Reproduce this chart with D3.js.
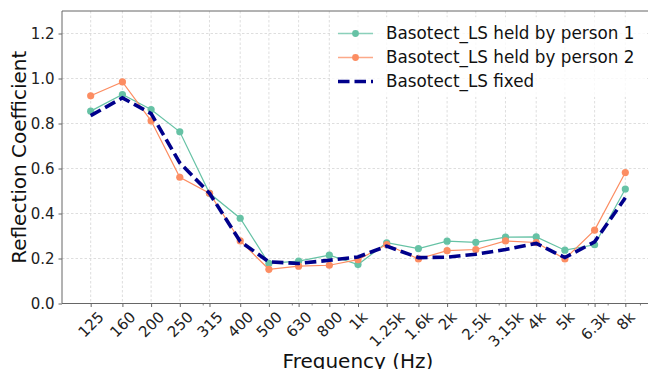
<!DOCTYPE html>
<html>
<head>
<meta charset="utf-8">
<script src="https://cdn.jsdelivr.net/npm/d3@7"></script>
<style>
  html, body { margin: 0; padding: 0; background: #fff; }
  svg { display: block; font-family: "DejaVu Sans", sans-serif; }
</style>
</head>
<body>
<svg id="chart" width="648" height="369"></svg>
<script>
// One-third-octave band centre frequencies (Hz) and their axis labels
const frequencies = [125, 160, 200, 250, 315, 400, 500, 630, 800, 1000, 1250, 1600, 2000, 2500, 3150, 4000, 5000, 6300, 8000];
const tickLabels = ["125", "160", "200", "250", "315", "400", "500", "630", "800", "1k", "1.25k", "1.6k", "2k", "2.5k", "3.15k", "4k", "5k", "6.3k", "8k"];

// Reflection coefficient per band
const heldPerson1 = [0.855, 0.929, 0.862, 0.763, 0.490, 0.379, 0.178, 0.188, 0.215, 0.173, 0.270, 0.244, 0.277, 0.272, 0.295, 0.296, 0.237, 0.261, 0.509];
const heldPerson2 = [0.923, 0.985, 0.812, 0.561, 0.490, 0.278, 0.152, 0.166, 0.170, 0.195, 0.262, 0.198, 0.235, 0.240, 0.278, 0.271, 0.198, 0.326, 0.582];
const fixedMount  = [0.835, 0.914, 0.844, 0.625, 0.490, 0.276, 0.185, 0.178, 0.192, 0.207, 0.255, 0.204, 0.206, 0.219, 0.240, 0.267, 0.204, 0.274, 0.470];

const yTicks = [0.0, 0.2, 0.4, 0.6, 0.8, 1.0, 1.2];

const seriesList = [
  { name: "Basotect_LS held by person 1", values: heldPerson1, color: "#66c2a5", markers: true },
  { name: "Basotect_LS held by person 2", values: heldPerson2, color: "#fc8d62", markers: true },
  { name: "Basotect_LS fixed", values: fixedMount, color: "#00008b", markers: false }
];

const svg = d3.select("#chart");
const margin = { left: 62, top: 11, right: 654, bottom: 303.5 };

const x = d3.scaleLog().domain([100, 10000]).range([margin.left, margin.right]);
const y = d3.scaleLinear().domain([0, 1.3]).range([margin.bottom, margin.top]);

const plot = svg.append("g");

// grid
const grid = plot.append("g").attr("stroke", "#d6d6d6").attr("stroke-width", 0.8)
  .attr("stroke-dasharray", "2.5,2");
grid.selectAll("line.v").data(frequencies).join("line")
  .attr("x1", d => x(d)).attr("x2", d => x(d))
  .attr("y1", margin.top).attr("y2", margin.bottom);
grid.selectAll("line.h").data(yTicks).join("line")
  .attr("x1", margin.left).attr("x2", margin.right)
  .attr("y1", d => y(d)).attr("y2", d => y(d));

// series
const line = d3.line().x((d, i) => x(frequencies[i])).y(d => y(d));
seriesList.forEach(s => {
  const g = plot.append("g");
  if (s.markers) {
    g.append("path").datum(s.values)
      .attr("d", line).attr("fill", "none")
      .attr("stroke", s.color).attr("stroke-width", 1.2);
    g.selectAll("circle").data(s.values).join("circle")
      .attr("cx", (d, i) => x(frequencies[i])).attr("cy", d => y(d))
      .attr("r", 3.6).attr("fill", s.color);
  } else {
    g.append("path").datum(s.values)
      .attr("d", line).attr("fill", "none")
      .attr("stroke", s.color).attr("stroke-width", 3.6)
      .attr("stroke-dasharray", "11.5,5");
  }
});

// spines
const spine = "#666";
svg.append("line").attr("x1", margin.left).attr("x2", margin.left)
  .attr("y1", margin.top).attr("y2", margin.bottom).attr("stroke", spine).attr("stroke-width", 1);
svg.append("line").attr("x1", margin.left).attr("x2", margin.right)
  .attr("y1", margin.bottom).attr("y2", margin.bottom).attr("stroke", spine).attr("stroke-width", 1);
svg.append("line").attr("x1", margin.left).attr("x2", margin.right)
  .attr("y1", margin.top).attr("y2", margin.top).attr("stroke", spine).attr("stroke-width", 1);

// y axis
const yAxis = svg.append("g").attr("transform", `translate(${margin.left},0)`)
  .call(d3.axisLeft(y).tickValues(yTicks).tickFormat(d3.format(".1f")).tickSize(3.5).tickPadding(4));
yAxis.select(".domain").remove();
yAxis.selectAll(".tick line").attr("stroke", spine);
yAxis.selectAll(".tick text").attr("font-size", 15).attr("fill", "#222")
  .attr("font-family", "DejaVu Sans");

// x axis: minor ticks of the log scale, then labelled band ticks
const minor = [];
[100, 1000].forEach(dec => { for (let k = 2; k <= 9; k++) minor.push(dec * k); });
svg.append("g").selectAll("line").data(minor.filter(m => !frequencies.includes(m))).join("line")
  .attr("x1", d => x(d)).attr("x2", d => x(d))
  .attr("y1", margin.bottom).attr("y2", margin.bottom + 2)
  .attr("stroke", spine).attr("stroke-width", 0.8);

const xAxis = svg.append("g").attr("transform", `translate(0,${margin.bottom})`)
  .call(d3.axisBottom(x).tickValues(frequencies).tickFormat((d, i) => tickLabels[i]).tickSize(3.5));
xAxis.select(".domain").remove();
xAxis.selectAll(".tick line").attr("stroke", spine);
xAxis.selectAll(".tick text").each(function () {
  const t = d3.select(this)
    .attr("font-size", 15).attr("fill", "#222").attr("font-family", "DejaVu Sans")
    .attr("text-anchor", "middle").attr("dy", null).attr("y", 0)
    .attr("dominant-baseline", "central");
  const w = this.getComputedTextLength();
  const h = 11.5;
  const boxH = (w + h) / Math.SQRT2;
  const cy = 3.5 + 3.5 + boxH / 2;
  t.attr("transform", `translate(0,${cy}) rotate(-45)`);
});

// axis titles
svg.append("text").attr("x", (margin.left + margin.right) / 2).attr("y", 367.5)
  .attr("text-anchor", "middle").attr("font-size", 20).attr("fill", "#111")
  .text("Frequency (Hz)");
svg.append("text")
  .attr("transform", `translate(26,${(margin.top + margin.bottom) / 2}) rotate(-90)`)
  .attr("text-anchor", "middle").attr("font-size", 20).attr("fill", "#111")
  .text("Reflection Coefficient");

// legend
const legend = svg.append("g");
legend.append("rect").attr("x", 330).attr("y", 17).attr("width", 316).attr("height", 80)
  .attr("fill", "#fff").attr("opacity", 0.8);
seriesList.forEach((s, i) => {
  const ly = 33.5 + i * 24;
  const g = legend.append("g");
  if (s.markers) {
    g.append("line").attr("x1", 338).attr("x2", 373).attr("y1", ly).attr("y2", ly)
      .attr("stroke", s.color).attr("stroke-width", 1.4).attr("opacity", 0.75);
    g.append("circle").attr("cx", 355.5).attr("cy", ly).attr("r", 3.4).attr("fill", s.color);
  } else {
    g.append("line").attr("x1", 338).attr("x2", 373).attr("y1", ly).attr("y2", ly)
      .attr("stroke", s.color).attr("stroke-width", 3.6).attr("stroke-dasharray", "11.5,5");
  }
  g.append("text").attr("x", 386).attr("y", ly).attr("dy", "0.35em")
    .attr("font-size", 16.8).attr("fill", "#111").text(s.name);
});
</script>
</body>
</html>
